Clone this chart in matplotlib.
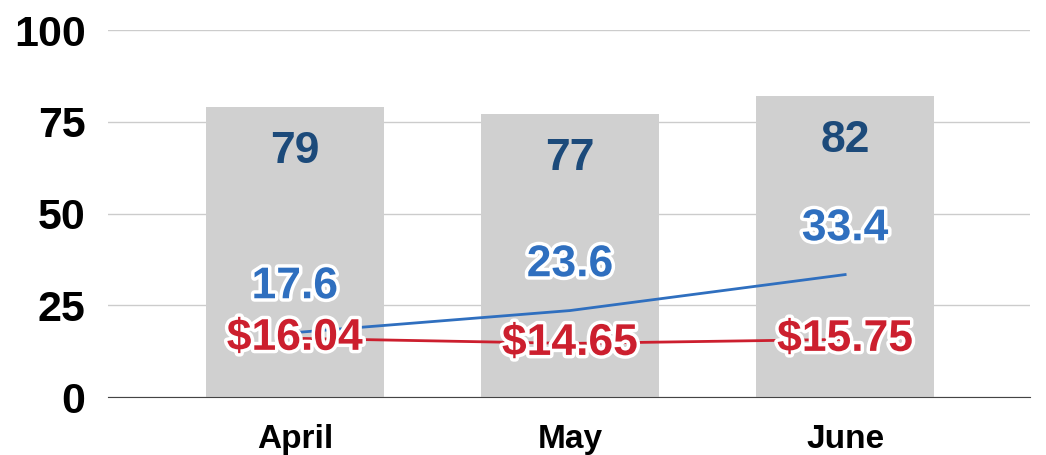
import matplotlib.pyplot as plt
import matplotlib.patheffects as pe

months = ["April", "May", "June"]
bar_vals = [79, 77, 82]
blue_vals = [17.6, 23.6, 33.4]
red_vals = [16.04, 14.65, 15.75]
red_labels = ["$16.04", "$14.65", "$15.75"]

plt.rcParams["font.family"] = ["Liberation Sans", "DejaVu Sans"]

fig = plt.figure(figsize=(10.46, 4.55), dpi=100)
ax = fig.add_axes([0.103, 0.127, 0.882, 0.807])

x = list(range(len(months)))
ax.bar(x, bar_vals, width=0.647, color="#d0d0d0", zorder=2)
ax.plot(x, blue_vals, color="#2f6fbf", linewidth=2, zorder=3)
ax.plot(x, red_vals, color="#cc1f2e", linewidth=2, zorder=3)

outline = [pe.withStroke(linewidth=5, foreground="white")]

for xi, v in zip(x, bar_vals):
    ax.annotate(str(v), (xi, v), xytext=(0, -32), textcoords="offset points",
                ha="center", va="center", fontsize=32, fontweight="bold",
                color="#1c4a7a", zorder=5)

for xi, v in zip(x, blue_vals):
    ax.annotate(f"{v}", (xi, v), xytext=(0, 33), textcoords="offset points",
                ha="center", va="center", fontsize=32, fontweight="bold",
                color="#2f6fbf", path_effects=outline, zorder=5)

for xi, v, lab in zip(x, red_vals, red_labels):
    ax.annotate(lab, (xi, v), xytext=(0, 0), textcoords="offset points",
                ha="center", va="center", fontsize=32, fontweight="bold",
                color="#cc1f2e", path_effects=outline, zorder=5)

ax.set_xlim(-0.68, 2.673)
ax.set_ylim(0, 100)
ax.set_yticks([0, 25, 50, 75, 100])
ax.set_xticks(x)
ax.set_xticklabels(months, fontsize=24, fontweight="bold")
ax.tick_params(axis="y", labelsize=31, length=0, pad=16)
ax.tick_params(axis="x", length=0, pad=19)
for lab in ax.get_yticklabels():
    lab.set_fontweight("bold")

ax.grid(axis="y", color="#cccccc", linewidth=1, zorder=0)
for s in ["top", "right", "left"]:
    ax.spines[s].set_visible(False)
ax.spines["bottom"].set_color("#444444")
ax.spines["bottom"].set_zorder(4)

fig.savefig("out.png", dpi=100)
